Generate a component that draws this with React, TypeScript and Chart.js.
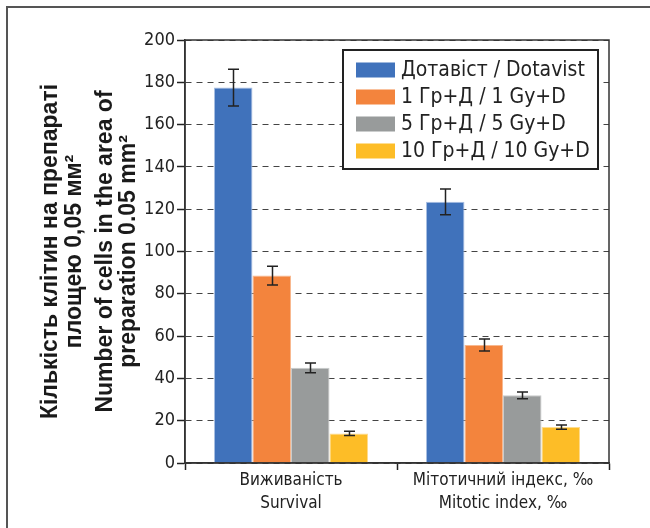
import { useEffect, useRef } from "react";
import { Chart, registerables } from "chart.js";

Chart.register(...registerables);

const categories = [
  ["Виживаність", "Survival"],
  ["Мітотичний індекс, ‰", "Mitotic index, ‰"],
];
const seriesLabels = [
  "Дотавіст / Dotavist",
  "1 Гр+Д / 1 Gy+D",
  "5 Гр+Д / 5 Gy+D",
  "10 Гр+Д / 10 Gy+D",
];
const dotavist = [177.5, 123.5];
const gy1 = [88.6, 55.8];
const gy5 = [45, 32];
const gy10 = [14, 17];
const dotavistErr = [8.7, 6.1];
const gy1Err = [4.4, 2.8];
const gy5Err = [2.3, 1.6];
const gy10Err = [1, 1];
const yTitleUa = ["Кількість клітин на препараті", "площею 0,05 мм²"];
const yTitleEn = ["Number of cells in the area of", "preparation 0.05 mm²"];
const yMin = 0;
const yMax = 200;
const yStep = 20;

const colors = ["#4072bb", "#f3843d", "#989b9b", "#fdbd27"];
const edgeColors = ["#a9c0e3", "#f8b88f", "#c9cbcb", "#fedc8e"];
const errs = [dotavistErr, gy1Err, gy5Err, gy10Err];

const NARROW = "'Liberation Sans Narrow', 'DejaVu Sans Condensed', sans-serif";
const LEGEND_FONT = "'DejaVu Sans Condensed', 'DejaVu Sans', sans-serif";

const framePlugin = {
  id: "frame",
  beforeDraw(chart: any) {
    const ctx = chart.ctx;
    ctx.save();
    ctx.fillStyle = "#ffffff";
    ctx.fillRect(0, 0, chart.width, chart.height);
    ctx.strokeStyle = "#555555";
    ctx.lineWidth = 2;
    ctx.beginPath();
    ctx.moveTo(7, chart.height);
    ctx.lineTo(7, 7);
    ctx.lineTo(chart.width, 7);
    ctx.stroke();
    // y title
    ctx.fillStyle = "#1a1a1a";
    ctx.font = "bold 23px 'Liberation Sans', Arial, sans-serif";
    ctx.textAlign = "center";
    ctx.textBaseline = "alphabetic";
    const a = chart.chartArea;
    const cy = (a.top + a.bottom) / 2;
    ctx.translate(0, cy);
    ctx.rotate(-Math.PI / 2);
    const xs = [57, 81, 112, 135];
    const lines = [...yTitleUa, ...yTitleEn];
    lines.forEach((t, i) => ctx.fillText(t, 0, xs[i]));
    ctx.restore();
  },
};

const overlayPlugin = {
  id: "overlay",
  afterDatasetsDraw(chart: any) {
    const ctx = chart.ctx;
    const y = chart.scales.y;
    const a = chart.chartArea;
    ctx.save();
    // error bars
    ctx.strokeStyle = "#222222";
    ctx.lineWidth = 1.5;
    chart.data.datasets.forEach((ds: any, di: number) => {
      const meta = chart.getDatasetMeta(di);
      meta.data.forEach((bar: any, i: number) => {
        const v = ds.data[i];
        const e = errs[di][i];
        const x = Math.round(bar.x) + 0.5;
        const y1 = y.getPixelForValue(v + e);
        const y2 = y.getPixelForValue(v - e);
        ctx.beginPath();
        ctx.moveTo(x, y1);
        ctx.lineTo(x, y2);
        ctx.moveTo(x - 5.5, y1);
        ctx.lineTo(x + 5.5, y1);
        ctx.moveTo(x - 5.5, y2);
        ctx.lineTo(x + 5.5, y2);
        ctx.stroke();
      });
    });
    // plot box
    ctx.strokeStyle = "#333333";
    ctx.lineWidth = 1.5;
    ctx.strokeRect(a.left, a.top, a.right - a.left, a.bottom - a.top);
    // legend
    const lx = 343, ly = 50, lw = 255, lh = 119;
    ctx.fillStyle = "#ffffff";
    ctx.fillRect(lx, ly, lw, lh);
    ctx.strokeStyle = "#222222";
    ctx.lineWidth = 2;
    ctx.strokeRect(lx, ly, lw, lh);
    ctx.font = "21px " + LEGEND_FONT;
    ctx.textAlign = "left";
    ctx.textBaseline = "middle";
    chart.data.datasets.forEach((ds: any, di: number) => {
      const cyRow = 70 + di * 27;
      ctx.fillStyle = ds.backgroundColor;
      ctx.fillRect(356, cyRow - 7.5, 39, 15);
      ctx.fillStyle = "#222222";
      ctx.fillText(ds.label, 401, cyRow + 1);
    });
    ctx.restore();
  },
};

export default function App() {
  const ref = useRef<HTMLCanvasElement | null>(null);
  useEffect(() => {
    if (!ref.current) return;
    const seriesData = [dotavist, gy1, gy5, gy10];
    const chart = new Chart(ref.current, {
      type: "bar",
      data: {
        labels: categories,
        datasets: seriesData.map((d, i) => ({
          label: seriesLabels[i],
          data: d,
          backgroundColor: colors[i],
          borderColor: edgeColors[i],
          borderWidth: 1,
          categoryPercentage: 0.727,
          barPercentage: 1.0,
        })),
      },
      options: {
        animation: false,
        responsive: false,
        devicePixelRatio: 1,
        layout: { padding: { left: 0, top: 40, right: 41, bottom: 0 } },
        plugins: { legend: { display: false }, tooltip: { enabled: false } },
        scales: {
          x: {
            grid: {
              display: true,
              drawOnChartArea: false,
              offset: true,
              tickLength: 7,
              tickColor: "#222222",
              tickWidth: 1.5,
            },
            border: { display: true, color: "#333333", width: 1.5 },
            ticks: {
              color: "#222222",
              font: { family: NARROW, size: 17, lineHeight: 1.3 },
              padding: 0,
              maxRotation: 0,
              autoSkip: false,
            },
            afterFit: (s: any) => {
              s.height = 65;
            },
          },
          y: {
            min: yMin,
            max: yMax,
            grid: {
              color: "#444444",
              lineWidth: 1,
              tickLength: 8,
              tickColor: "#222222",
              tickWidth: 1.5,
              tickBorderDash: [],
            },
            border: { display: true, color: "#333333", width: 1.5, dash: [6, 5] },
            ticks: {
              stepSize: yStep,
              color: "#222222",
              font: { family: NARROW, size: 18 },
              padding: 2,
            },
            afterFit: (s: any) => {
              s.width = 185;
            },
          },
        },
      },
      plugins: [framePlugin, overlayPlugin],
    });
    return () => chart.destroy();
  }, []);
  return (
    <div style={{ position: "fixed", left: 0, top: 0, width: 650, height: 528 }}>
      <canvas ref={ref} width={650} height={528} style={{ width: 650, height: 528 }} />
    </div>
  );
}
